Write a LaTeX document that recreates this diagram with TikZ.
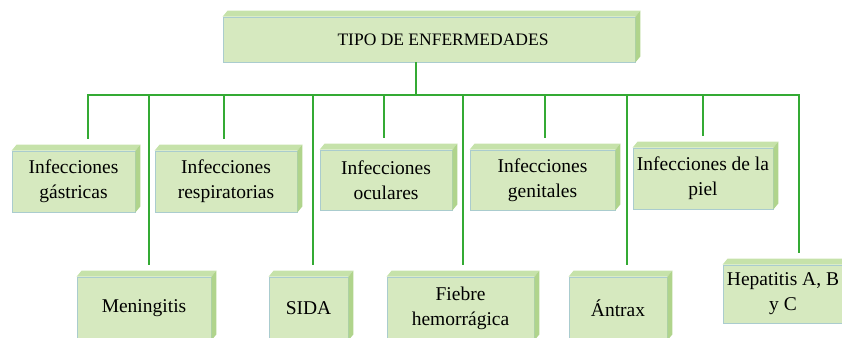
\documentclass[tikz,border=0pt]{standalone}
\usepackage{fontspec}
\setmainfont{Liberation Serif}
\usetikzlibrary{calc}

\definecolor{cajaverde}{RGB}{214,233,191}
\definecolor{tapaverde}{RGB}{198,226,170}
\definecolor{ladoverde}{RGB}{176,212,140}
\definecolor{bordecaja}{RGB}{170,204,206}
\definecolor{lineaverde}{RGB}{52,170,52}

\begin{document}
\begin{tikzpicture}[
    x=1pt, y=1pt,
    caja/.style={rectangle, draw=bordecaja, line width=0.8pt, fill=cajaverde,
        inner sep=0pt, align=center, font=\rmfamily\fontsize{19.5}{25}\selectfont},
    enlace/.style={draw=lineaverde, line width=1.6pt, line cap=rect},
    tapa/.style={fill=tapaverde},
    lado/.style={fill=ladoverde}
]
\useasboundingbox (0,0) rectangle (842,337);

% Titulo
\node[caja, minimum width=412, minimum height=45, font=\rmfamily\fontsize{17.5}{21}\selectfont]
    (titulo) at (429,297.5) {\hspace*{28pt}TIPO DE ENFERMEDADES};

% Primera fila
\node[caja, minimum width=123, minimum height=61] (gas)  at (73.5,155.5) {Infecciones\\gástricas};
\node[caja, minimum width=142, minimum height=61] (res)  at (226,155.5)  {Infecciones\\respiratorias};
\node[caja, minimum width=132, minimum height=60] (ocu)  at (386,157)    {Infecciones\\oculares};
\node[caja, minimum width=145, minimum height=60] (gen)  at (542.5,157)  {Infecciones\\genitales};
\node[caja, minimum width=140, minimum height=61] (piel) at (703,158.5)  {Infecciones de la\\piel};

% Segunda fila
\node[caja, minimum width=134, minimum height=63] (men) at (144,28.5)   {Meningitis};
\node[caja, minimum width=79,  minimum height=63] (sida) at (308.5,28.5) {SIDA};
\node[caja, minimum width=147, minimum height=63] (fie) at (460.5,28.5) {Fiebre\\hemorrágica};
\node[caja, minimum width=98,  minimum height=63] (ant) at (618,28.5)   {Ántrax};
\node[caja, minimum width=120, minimum height=58] (hep) at (783,43)     {Hepatitis A, B\\y C};

% Relieve de las cajas
\foreach \n in {titulo,gas,res,ocu,gen,piel,men,sida,fie,ant,hep} {
  \fill[tapa] (\n.north west) -- ++(5,6) -- ($(\n.north east)+(5,6)$) -- (\n.north east) -- cycle;
  \fill[lado] (\n.north east) -- ++(5,6) -- ($(\n.south east)+(5,6)$) -- (\n.south east) -- cycle;
}

% Conectores
\coordinate (bus-izq) at (88,242);
\coordinate (bus-der) at (799,242);
\coordinate (sal) at ([xshift=-13pt]titulo.south);
\draw[enlace] (sal) -- (sal |- bus-izq);
\draw[enlace] (bus-izq) -- (bus-der);
\foreach \n/\dx in {gas/14.5, res/-2, ocu/-2, gen/2.5, piel/0,
                    men/5, sida/4.5, fie/2.5, ant/9, hep/16} {
  \coordinate (pie) at ([xshift=\dx pt]\n.north);
  \draw[enlace, shorten >=12pt] (pie |- bus-izq) -- (pie);
}

\end{tikzpicture}
\end{document}
